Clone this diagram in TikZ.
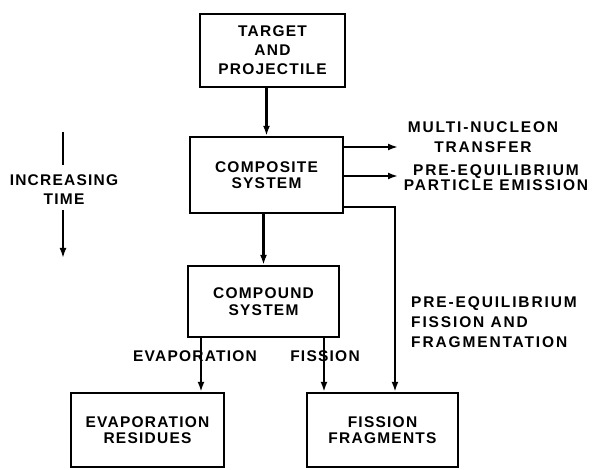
\documentclass[tikz,border=0pt]{standalone}
\usepackage{fontspec}
\setmainfont{Liberation Sans}[LetterSpace=8]
\usetikzlibrary{arrows.meta}
\begin{document}
\begin{tikzpicture}[x=1pt,y=-1pt,
  box/.style={draw,line width=2.4pt,rectangle,inner sep=0pt,align=center,
    font=\fontsize{15.5}{16.5}\selectfont\bfseries},
  lbl/.style={inner sep=0pt,font=\fontsize{15.5}{16.5}\selectfont\bfseries},
  wide/.style={font=\fontsize{15.5}{#1}\selectfont\bfseries\addfontfeature{LetterSpace=12}},
  arr/.style={line width=2.4pt,-{Latex[length=10pt,width=7pt]}},
  ln/.style={line width=2.4pt}]
\useasboundingbox (0,0) rectangle (595,470);
% boxes
\node[box,minimum width=145pt,minimum height=73pt,font=\fontsize{15.5}{19}\selectfont\bfseries] (T) at (272.5,50.5) {TARGET\\AND\\PROJECTILE};
\node[box,minimum width=153pt,minimum height=76pt] (C) at (266.5,175) {COMPOSITE\\SYSTEM};
\node[box,minimum width=151pt,minimum height=71pt] (K) at (263.5,301.5) {COMPOUND\\SYSTEM};
\node[box,minimum width=153pt,minimum height=74pt] (E) at (147.5,430) {EVAPORATION\\RESIDUES};
\node[box,minimum width=151pt,minimum height=74pt] (F) at (382.5,430) {FISSION\\FRAGMENTS};
% labels
\node[lbl,align=center,wide=20] (mn) at (483,137) {MULTI-NUCLEON\\TRANSFER};
\node[lbl,align=center,wide=13.5] (pe) at (496,178) {PRE-EQUILIBRIUM\\PARTICLE EMISSION};
\node[lbl,align=left,anchor=north west,wide=20] (pf) at (411,296) {PRE-EQUILIBRIUM\\FISSION AND\\FRAGMENTATION};
\node[lbl] (ev) at (195,356) {EVAPORATION};
\node[lbl] (fi) at (325,356) {FISSION};
\node[lbl,align=center,font=\fontsize{15.5}{19}\selectfont\bfseries] (it) at (64,190) {INCREASING\\TIME};
% connectors
\draw[arr] (T.south -| C.north) -- (C.north);
\draw[arr] (C.south -| K.north) -- (K.north);
\coordinate (m1) at (398,147);
\coordinate (m2) at (398,176);
\draw[arr] (C.east |- m1) -- (m1);
\draw[arr] (C.east |- m2) -- (m2);
\coordinate (fx) at (395,207);
\draw[arr] (C.east |- fx) -- (fx) -- (fx |- F.north);
\coordinate (ex) at (201,0);
\coordinate (fy) at (324,0);
\draw[arr] (K.south -| ex) -- (E.north -| ex);
\draw[arr] (K.south -| fy) -- (F.north -| fy);
% time arrow
\coordinate (t1) at (63,132);
\coordinate (t2) at (63,165);
\coordinate (t3) at (63,210);
\coordinate (t4) at (63,258);
\draw[ln] (t1) -- (t2);
\draw[arr] (t3) -- (t4);
\end{tikzpicture}
\end{document}
